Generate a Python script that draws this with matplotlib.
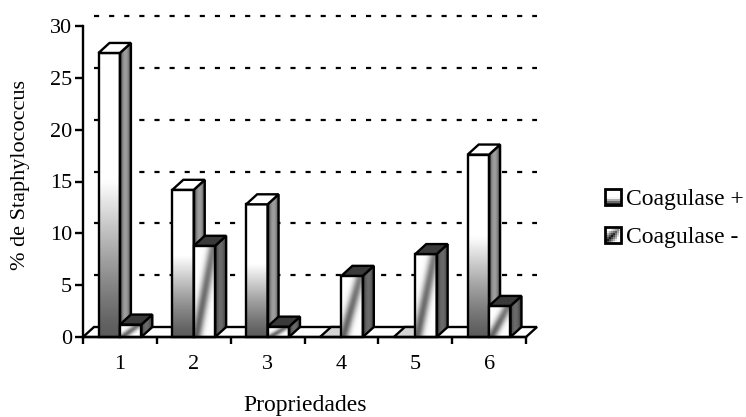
import numpy as np
import matplotlib
matplotlib.use("Agg")
import matplotlib.pyplot as plt
from matplotlib.legend_handler import HandlerBase
from matplotlib.patches import Patch, Polygon, Rectangle

categories = ["1", "2", "3", "4", "5", "6"]
coag_pos = [27.4, 14.2, 12.8, 0.0, 0.0, 17.6]
coag_neg = [1.2, 8.8, 1.0, 5.9, 8.0, 3.0]
y_ticks = [0, 5, 10, 15, 20, 25, 30]
series_names = ["Coagulase +", "Coagulase -"]

plt.rcParams["font.family"] = ["Liberation Serif", "DejaVu Serif"]

W, H = 746, 417
fig = plt.figure(figsize=(W / 100, H / 100), dpi=100, facecolor="white")
ax = fig.add_axes([83 / W, 1 - 337 / H, (526 - 83) / W, (337 - 26) / H])
ax.set_facecolor("none")

XMIN, XMAX, YMAX = 0.5, 6.5, 30
DX = 11 / ((526 - 83) / 6)   # depth of the 3-D box along x
DY = 10 / ((337 - 26) / 30)  # depth of the 3-D box along y
BAR_W = 0.29
LW = 1.7


def shade(image, extent, clip=None, z=3):
    im = ax.imshow(image, extent=extent, origin="lower", cmap="gray", vmin=0, vmax=1,
                   aspect="auto", interpolation="bilinear", zorder=z)
    if clip is not None:
        im.set_clip_path(clip)
    else:
        im.set_clip_on(False)
    return im


def grad_pos(n=64):
    v = np.linspace(0, 1, n)[:, None]
    level = np.where(v > 0.55, 1.0, 0.36 + 0.64 * (v / 0.55) ** 1.2)
    return np.repeat(level, 8, axis=1)


def grad_neg(n=64):
    u, v = np.meshgrid(np.linspace(0, 1, n), np.linspace(0, 1, n))
    d = u - (0.1 + 0.8 * v)
    return 1 - (0.62 - 0.12 * v) * np.exp(-(d / 0.24) ** 2)


def grad_side(dark, mid):
    u = np.linspace(0, 1, 32)[None, :]
    level = dark + (mid - dark) * np.sin(np.pi * u) ** 0.8
    return np.repeat(level, 4, axis=0)


def draw_bar(x0, value, z, kind):
    x1 = x0 + BAR_W
    if value > 0:
        cap_colour = "white" if kind == "pos" else "#3a3a3a"
    else:
        cap_colour = "#d4d4d4"
    top = Polygon([(x0, value), (x1, value), (x1 + DX, value + DY), (x0 + DX, value + DY)],
                  closed=True, fc=cap_colour, ec="black", lw=LW, zorder=z + 0.3,
                  clip_on=False, joinstyle="miter")
    if value > 0:
        side = Polygon([(x1, 0), (x1 + DX, DY), (x1 + DX, value + DY), (x1, value)],
                       closed=True, fc="none", ec="black", lw=LW, zorder=z + 0.2,
                       clip_on=False, joinstyle="miter")
        clip = Polygon(side.get_xy(), closed=True, transform=ax.transData)
        image = grad_side(0.22, 0.62) if kind == "pos" else grad_side(0.2, 0.42)
        shade(image, (x1, x1 + DX, 0, value + DY), clip=clip, z=z + 0.1)
        ax.add_patch(side)
        shade(grad_pos() if kind == "pos" else grad_neg(), (x0, x1, 0, value), z=z + 0.1)
        ax.add_patch(Rectangle((x0, 0), BAR_W, value, fc="none", ec="black", lw=LW,
                               zorder=z + 0.25, clip_on=False, joinstyle="miter"))
    ax.add_patch(top)


# Box floor and dashed back-wall grid
ax.add_patch(Polygon([(XMIN, 0), (XMIN + DX, DY), (XMAX + DX, DY), (XMAX, 0)], closed=True,
                     fc="white", ec="black", lw=LW, zorder=1, clip_on=False))
for tick in y_ticks[1:]:
    ax.plot([XMIN + DX, XMAX + DX], [tick + DY, tick + DY], color="black", lw=1.6,
            linestyle=(0, (2.3, 4.5)), zorder=1, clip_on=False)

for i, (pos, neg) in enumerate(zip(coag_pos, coag_neg)):
    centre = i + 1
    draw_bar(centre - BAR_W, pos, 3 + i, "pos")
    draw_bar(centre, neg, 3.5 + i, "neg")

ax.set_xlim(XMIN, XMAX)
ax.set_ylim(0, YMAX)
for name in ("top", "right"):
    ax.spines[name].set_visible(False)
for name in ("left", "bottom"):
    ax.spines[name].set_linewidth(LW)
    ax.spines[name].set_zorder(20)

ax.set_yticks(y_ticks)
ax.set_xticks(np.arange(XMIN, XMAX + 0.5, 1))
ax.set_xticklabels([])
ax.set_xticks(np.arange(1, len(categories) + 1), minor=True)
ax.set_xticklabels(categories, minor=True)
ax.tick_params(axis="y", length=6, width=LW, labelsize=16, pad=2)
ax.tick_params(axis="x", which="major", length=5, width=LW)
ax.tick_params(axis="x", which="minor", length=0, labelsize=16, pad=13)

fig.text(21 / W, 1 - 175 / H, "% de Staphylococcus", rotation=90, ha="center", va="center",
         fontsize=16)
fig.text(305 / W, 1 - 406 / H, "Propriedades", ha="center", va="center", fontsize=17)


class GradientHandle(HandlerBase):
    """Legend key built from small cells so it carries the bar shading."""

    def __init__(self, field):
        super().__init__()
        self.field = field

    def create_artists(self, legend, orig_handle, xdescent, ydescent, width, height,
                       fontsize, trans):
        n = self.field.shape[0]
        artists = []
        for r in range(n):
            for c in range(n):
                g = float(self.field[r, c])
                artists.append(Rectangle((c * width / n, r * height / n), width / n, height / n,
                                         fc=(g, g, g), ec="none", transform=trans))
        artists.append(Rectangle((0, 0), width, height, fc="none", ec="black", lw=2.0,
                                 transform=trans))
        return artists


u_, v_ = np.meshgrid(np.linspace(0, 1, 8), np.linspace(0, 1, 8))
key_pos = np.clip(0.15 + 1.9 * v_, 0, 1)
key_neg = np.clip(0.1 + 1.4 * np.abs(u_ - v_) + 0.6 * (u_ - (1 - v_)) * (u_ + v_ > 1), 0, 1)
handles = [Patch(label=series_names[0]), Patch(label=series_names[1])]
ax.legend(handles=handles, loc="center left", bbox_to_anchor=(605 / W, 1 - 218 / H),
          bbox_transform=fig.transFigure, frameon=False, fontsize=17,
          handlelength=0.66, handleheight=0.66, handletextpad=0.22, labelspacing=0.72,
          borderpad=0, borderaxespad=0,
          handler_map={handles[0]: GradientHandle(key_pos), handles[1]: GradientHandle(key_neg)})

fig.savefig("out.png", dpi=100, facecolor="white")
